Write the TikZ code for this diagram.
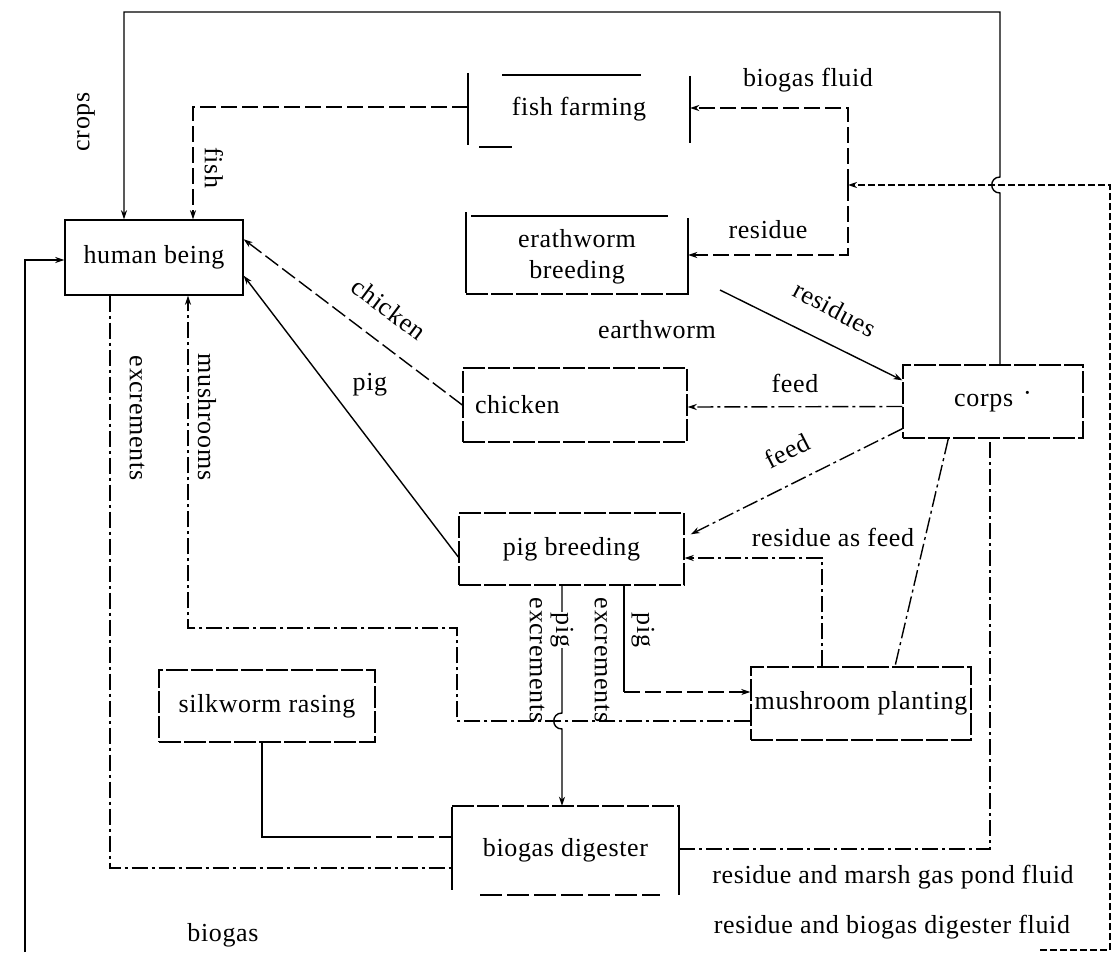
\documentclass[tikz,border=0pt]{standalone}
\usepackage{fontspec}
\setmainfont{Liberation Serif}[LetterSpace=2.5]
\usetikzlibrary{arrows.meta,calc}
\begin{document}
\begin{tikzpicture}[x=1pt,y=-1pt,
  every node/.style={font=\fontsize{26}{31}\selectfont, inner sep=0pt},
  lw/.style={line width=1.4pt},
  sl/.style={lw},
  dl/.style={lw, dash pattern=on 16pt off 5pt},
  ddl/.style={lw, dash pattern=on 16pt off 4pt on 3pt off 4pt},
  bx/.style={draw, line width=1.4pt, dash pattern=on 22pt off 3pt},
  sbx/.style={draw, line width=1.4pt},
  tip/.style={-{Stealth[length=9pt,width=6pt]}},
  lab/.style={fill=white, inner sep=1pt}
]
\useasboundingbox[fill=white] (0,0) rectangle (1115,952);

% ---------- boxes ----------
\node[sbx, minimum width=178pt, minimum height=75pt] (human) at (154,257.5) {human being};
\node[minimum width=222pt, minimum height=72pt] (fish) at (579,109) {fish farming};
\draw[lw] (468,73) -- (468,145);
\draw[lw] (502,75) -- (641,75);
\draw[lw] (690,76) -- (690,143);
\draw[lw] (479,147) -- (512,147);
\node[minimum width=222pt, minimum height=78pt, align=center] (erath) at (577,257) {erathworm\\breeding};
\draw[lw] (466,212) -- (466,293);
\draw[lw] (471,216) -- (668,216);
\draw[lw] (688,218) -- (688,295);
\draw[lw, dash pattern=on 22pt off 3pt] (466,294) -- (688,294);
\node[bx, minimum width=224pt, minimum height=74pt, text width=200pt, align=left, inner xsep=12pt] (chicken) at (575,405) {chicken};
\node[bx, minimum width=180pt, minimum height=73pt] (corps) at (993,401.5) {corps\hspace{10pt}\raisebox{5pt}{·}};
\node[bx, minimum width=225pt, minimum height=72pt] (pig) at (571.5,549) {pig breeding};
\node[bx, minimum width=220pt, minimum height=73pt] (mush) at (861,703.5) {mushroom planting};
\node[bx, minimum width=216pt, minimum height=72pt] (silk) at (267,706) {silkworm rasing};
\node[minimum width=227pt, minimum height=88pt] (biog) at (565.5,850) {biogas digester};
\draw[lw] (452,807) -- (452,890);
\draw[lw, dash pattern=on 22pt off 3pt] (452,806) -- (679,806);
\draw[lw] (679,805) -- (679,895);
\draw[lw, dash pattern=on 22pt off 5pt] (480,895) -- (660,895);

% ---------- coordinates ----------
\coordinate (cr1) at (1000,12);
\coordinate (cr2) at (124,12);
\coordinate (fi) at (193,107);
\coordinate (rs) at (720,290);
\coordinate (rf) at (822,558);
\coordinate (mg) at (990,849);
\coordinate (f1) at (1040,950);
\coordinate (f2) at (1110,950);
\coordinate (f3) at (1110,185);
\coordinate (f4) at (848,185);
\coordinate (f5) at (848,108);
\coordinate (f6) at (848,255);
\coordinate (ex) at (110,868);
\coordinate (m1) at (457,721);
\coordinate (m2) at (457,628);
\coordinate (m3) at (188,628);
\coordinate (pc) at (562,600);
\coordinate (pm) at (624,692);
\coordinate (sk) at (262,837);
\coordinate (sk2) at (355,837);
\coordinate (b1) at (25,952);
\coordinate (b2) at (25,260);

% ---------- connectors ----------
% crops
\draw[sl,tip] (corps.north -| cr1) -- (1000,193) .. controls (989,193) and (989,177) .. (1000,177) -- (cr1) -- (cr2) -- (cr2 |- human.north);
% fish
\draw[dl,tip] (fish.west |- fi) -- (fi) -- (fi |- human.north);
% chicken
\draw[dl,tip] (chicken.west) -- ($(human.north east)+(0,20)$);
% pig
\draw[sl,tip] ($(pig.west)+(0,8)$) -- ($(human.south east)+(0,-20)$);
% residues
\draw[sl,tip] (rs) -- ($(corps.north west)+(0,16)$);
% feed to chicken
\draw[ddl,tip] ($(corps.west)+(0,5)$) -- ($(chicken.east)+(0,2)$);
% feed to pig
\draw[ddl,tip] ($(corps.south west)+(0,-10)$) -- ($(pig.north east)+(6,22)$);
% residue as feed
\draw[ddl,tip] (mush.north -| rf) -- (rf) -- (pig.east |- rf);
% corps - mushroom
\draw[ddl] ($(corps.south west)+(46,0)$) -- ($(mush.north)+(34,0)$);
% residue and marsh gas pond fluid
\draw[ddl] (biog.east |- mg) -- (mg) -- (mg |- corps.south);
% residue and biogas digester fluid
\draw[line width=1.1pt, dash pattern=on 7pt off 3pt,tip] (f1) -- (f2) -- (f3) -- (f4);
\draw[dl,tip] (f4) -- (f5) -- (fish.east |- f5);
\draw[dl,tip] (f4) -- (f6) -- (erath.east |- f6);
% excrements
\draw[ddl] (human.south -| ex) -- (ex) -- (biog.west |- ex);
% mushrooms
\draw[ddl,tip] (mush.west |- m1) -- (m1) -- (m2) -- (m3) -- (m3 |- human.south);
% pig excrements to digester
\draw[sl,tip] (pig.south -| pc) -- (562,713) .. controls (551,713) and (551,729) .. (562,729) -- (biog.north -| pc);
% pig excrements to mushroom
\draw[sl] (pig.south -| pm) -- (pm);
\draw[dl,tip] (pm) -- (mush.west |- pm);
% silkworm
\draw[sl] (silk.south -| sk) -- (sk) -- (sk2);
\draw[dl] (sk2) -- (biog.west |- sk);
% biogas
\draw[line width=2.6pt,tip] (b1) -- (b2) -- (human.west |- b2);

% ---------- labels ----------
\node[rotate=90] (lcrops) at (86,122) {crops};
\node[rotate=-90] (lfish) at (214,168) {fish};
\node[rotate=-90] (lexc) at (137,418) {excrements};
\node[rotate=-90] (lmush) at (207,417) {mushrooms};
\node (lbf) at (808,80) {biogas fluid};
\node (lres) at (768,230) {residue};
\node[rotate=-28] (lresid) at (835,309) {residues};
\node (lew) at (657,330) {earthworm};
\node[rotate=-37] (lchick) at (389,309) {chicken};
\node (lpig) at (370,385) {pig};
\node (lfeed1) at (795,383) {feed};
\node[rotate=27] (lfeed2) at (787,451) {feed};
\node (lraf) at (833,537) {residue as feed};
\node (lmarsh) at (893,877) {residue and marsh gas pond fluid};
\node (lbdf) at (892,927) {residue and biogas digester fluid};
\node (lbiogas) at (223,935) {biogas};
\node[rotate=-90] (lpe1) at (537,660) {excrements};
\node[rotate=-90, lab] (lpp1) at (562,630) {pig};
\node[rotate=-90] (lpe2) at (602,660) {excrements};
\node[rotate=-90] (lpp2) at (643,630) {pig};
\end{tikzpicture}
\end{document}
